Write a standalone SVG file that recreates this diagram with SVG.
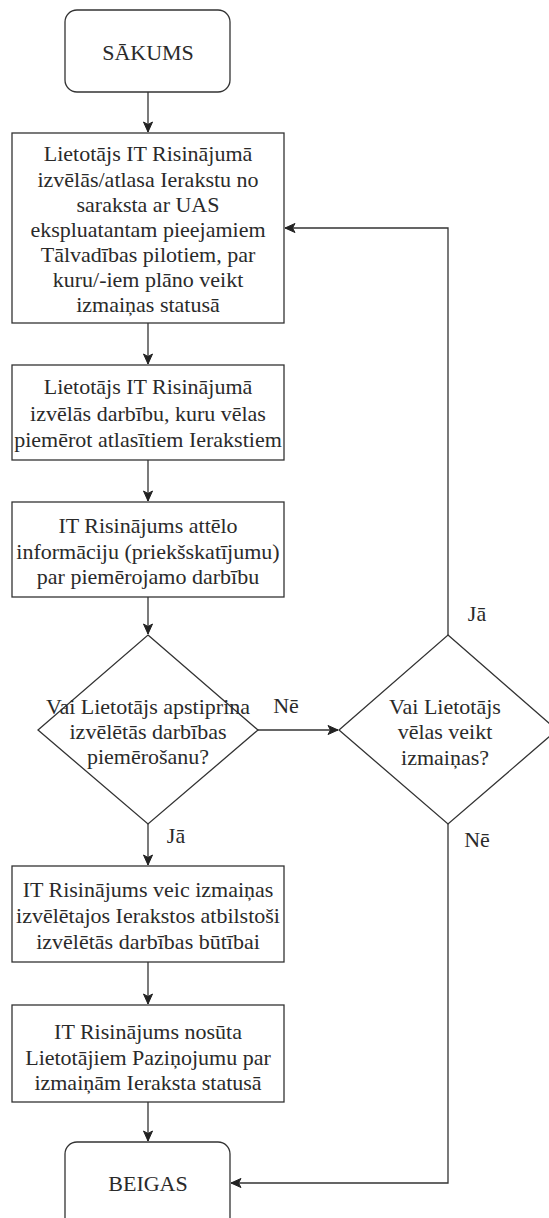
<svg xmlns="http://www.w3.org/2000/svg" width="549" height="1218" viewBox="0 0 549 1218">
<defs>
<style>
.n{fill:#fff;stroke:#333;stroke-width:1.3}
.t{font-family:"Liberation Serif","Times New Roman",serif;font-size:22px;fill:#2a2a2a;text-anchor:middle;dominant-baseline:central}
.c{fill:none;stroke:#333;stroke-width:1.3}
</style>
<marker id="ah" markerWidth="12" markerHeight="12" viewBox="0 0 12 12" refX="11" refY="6" orient="auto" markerUnits="userSpaceOnUse">
<path d="M1,1.5 L11,6 L1,10.5 L3.5,6 Z" fill="#222" stroke="#222" stroke-width="1"/>
</marker>
</defs>
<rect width="549" height="1218" fill="#fff"/>
<g id="connectors">
<path class="c" d="M148,92 L148,132" marker-end="url(#ah)"/>
<path class="c" d="M148,323 L148,364" marker-end="url(#ah)"/>
<path class="c" d="M148,460 L148,501" marker-end="url(#ah)"/>
<path class="c" d="M148,597 L148,634" marker-end="url(#ah)"/>
<path class="c" d="M258,730 L338,730" marker-end="url(#ah)"/>
<path class="c" d="M448,635 L448,228 L285,228" marker-end="url(#ah)"/>
<path class="c" d="M448,824 L448,1183 L231,1183" marker-end="url(#ah)"/>
<path class="c" d="M148,824 L148,865" marker-end="url(#ah)"/>
<path class="c" d="M148,962 L148,1004" marker-end="url(#ah)"/>
<path class="c" d="M148,1102 L148,1141" marker-end="url(#ah)"/>
<text class="t" x="286" y="705">Nē</text>
<text class="t" x="477" y="613">Jā</text>
<text class="t" x="477" y="839">Nē</text>
<text class="t" x="176" y="835">Jā</text>
</g>
<g id="start">
<rect class="n" x="65" y="10" width="165" height="82" rx="12"/>
<text class="t" x="148" y="52">SĀKUMS</text>
</g>
<g id="select">
<rect class="n" x="12" y="133" width="272" height="190"/>
<text class="t" x="148" y="153">Lietotājs IT Risinājumā</text>
<text class="t" x="148" y="179">izvēlās/atlasa Ierakstu no</text>
<text class="t" x="148" y="204">saraksta ar UAS</text>
<text class="t" x="148" y="229">ekspluatantam pieejamiem</text>
<text class="t" x="148" y="254">Tālvadības pilotiem, par</text>
<text class="t" x="148" y="279">kuru/-iem plāno veikt</text>
<text class="t" x="148" y="304">izmaiņas statusā</text>
</g>
<g id="action">
<rect class="n" x="12" y="365" width="272" height="95"/>
<text class="t" x="148" y="386">Lietotājs IT Risinājumā</text>
<text class="t" x="148" y="413">izvēlās darbību, kuru vēlas</text>
<text class="t" x="148" y="439">piemērot atlasītiem Ierakstiem</text>
</g>
<g id="preview">
<rect class="n" x="12" y="502" width="272" height="95"/>
<text class="t" x="148" y="525">IT Risinājums attēlo</text>
<text class="t" x="148" y="551">informāciju (priekšskatījumu)</text>
<text class="t" x="148" y="576">par piemērojamo darbību</text>
</g>
<g id="confirm">
<polygon class="n" points="148,635 258,730 148,824 38,730"/>
<text class="t" x="148" y="706">Vai Lietotājs apstiprina</text>
<text class="t" x="148" y="731">izvēlētās darbības</text>
<text class="t" x="148" y="756">piemērošanu?</text>
</g>
<g id="change">
<polygon class="n" points="448,635 557,730 448,824 339,730"/>
<text class="t" x="445" y="706">Vai Lietotājs</text>
<text class="t" x="445" y="731">vēlas veikt</text>
<text class="t" x="445" y="757">izmaiņas?</text>
</g>
<g id="apply">
<rect class="n" x="12" y="866" width="272" height="96"/>
<text class="t" x="148" y="889">IT Risinājums veic izmaiņas</text>
<text class="t" x="148" y="915">izvēlētajos Ierakstos atbilstoši</text>
<text class="t" x="148" y="941">izvēlētās darbības būtībai</text>
</g>
<g id="notify">
<rect class="n" x="12" y="1005" width="272" height="97"/>
<text class="t" x="148" y="1031">IT Risinājums nosūta</text>
<text class="t" x="148" y="1057">Lietotājiem Paziņojumu par</text>
<text class="t" x="148" y="1082">izmaiņām Ieraksta statusā</text>
</g>
<g id="end">
<rect class="n" x="65" y="1142" width="165" height="90" rx="12"/>
<text class="t" x="148" y="1183">BEIGAS</text>
</g>
</svg>
